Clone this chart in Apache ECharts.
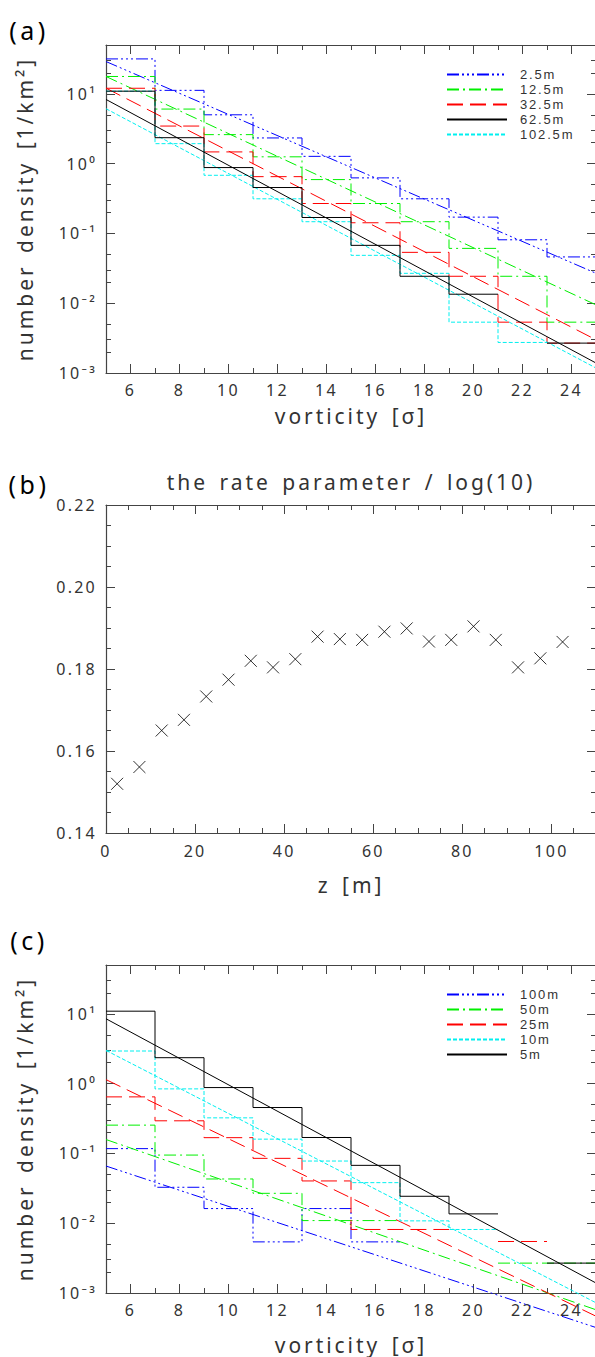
<!DOCTYPE html>
<html lang="en">
<head>
<meta charset="UTF-8">
<title>vorticity number density</title>
<script src="https://cdn.jsdelivr.net/npm/echarts@6/dist/echarts.min.js"></script>
<style>
    html, body { margin: 0; padding: 0; background: #fff; }
    #main { width: 595px; height: 1357px; }
    #main svg text { letter-spacing: 0.14em; word-spacing: 0.15em; }
</style>
</head>
<body>
<div id="main"></div>
<script>
    // histogram bins, vorticity in units of sigma
    var binEdges = [5, 7, 9, 11, 13, 15, 17, 19, 21, 23, 25];
    var vortTicks = [6, 8, 10, 12, 14, 16, 18, 20, 22, 24];
    var densMin = 0.001, densMax = 50;

    // (a) number density per bin at several heights (null = empty bin)
    var namesA = ['2.5m', '12.5m', '32.5m', '62.5m', '102.5m'];
    var histA_2_5 = [31.6, 11.2, 5.0, 2.33, 1.27, 0.624, 0.313, 0.171, 0.081, 0.046];
    var histA_12_5 = [17.7, 6.04, 2.6, 1.25, 0.59, 0.268, 0.147, 0.061, 0.0243, 0.00535];
    var histA_32_5 = [12.0, 3.45, 1.47, 0.65, 0.268, 0.142, 0.0535, 0.0243, 0.00535, 0.00268];
    var histA_62_5 = [10.9, 2.35, 0.877, 0.454, 0.169, 0.0674, 0.0243, 0.01345, null, 0.00268];
    var histA_102_5 = [10.9, 1.93, 0.68, 0.313, 0.147, 0.0485, 0.0268, 0.00535, 0.00274, null];
    // exponential fits: value at vorticity 5 and at 25
    var fitA_2_5 = [28.97, 0.02685];
    var fitA_12_5 = [17.7, 0.00946];
    var fitA_32_5 = [12.05, 0.00299];
    var fitA_62_5 = [8.30, 0.00139];
    var fitA_102_5 = [6.11, 0.001178];

    // (b) fitted rate parameter / log(10) against height
    var zHeight = [2.5, 7.5, 12.5, 17.5, 22.5, 27.5, 32.5, 37.5, 42.5, 47.5, 52.5,
        57.5, 62.5, 67.5, 72.5, 77.5, 82.5, 87.5, 92.5, 97.5, 102.5];
    var rateOverLog10 = [0.1520, 0.1561, 0.1650, 0.1676, 0.1733, 0.1774, 0.1820, 0.1804, 0.1824, 0.1879, 0.1873,
        0.1871, 0.1891, 0.1899, 0.1867, 0.1871, 0.1904, 0.1871, 0.1804, 0.1826, 0.1866];

    // (c) number density per bin for several resolutions
    var namesC = ['100m', '50m', '25m', '10m', '5m'];
    var histC_100 = [0.117, 0.0327, 0.0162, 0.0054, 0.0162, 0.0054, null, null, null, null];
    var histC_50 = [0.254, 0.0946, 0.043, 0.0268, 0.0109, 0.0109, null, null, 0.00268, 0.00268];
    var histC_25 = [0.645, 0.293, 0.168, 0.0849, 0.0403, 0.00813, 0.00813, null, 0.00547, null];
    var histC_10 = [2.93, 0.84, 0.323, 0.160, 0.0777, 0.0381, 0.0108, 0.00813, null, null];
    var histC_5 = [10.9, 2.35, 0.877, 0.454, 0.169, 0.0674, 0.0243, 0.0136, null, 0.00268];
    var fitC_100 = [0.0659, 0.00032];
    var fitC_50 = [0.158, 0.000575];
    var fitC_25 = [1.14, 0.000465];
    var fitC_10 = [2.99, 0.000724];
    var fitC_5 = [8.49, 0.00139];

    var frameColor = '#444';
    var textColor = '#333';
    var font = 'Noto Sans';
    var lineStyles = [
        {color: '#0000ff', type: [12, 3, 2, 3, 2, 3, 2, 3]},
        {color: '#00f000', type: [12, 4, 2, 4]},
        {color: '#ff0000', type: [16, 7]},
        {color: '#000000', type: 'solid'},
        {color: '#00f0f0', type: [4, 2]}
    ];
    // (c) legend order is blue, green, red, cyan, black
    var lineStylesC = [lineStyles[0], lineStyles[1], lineStyles[2], lineStyles[4], lineStyles[3]];

    var sup = {'-': '\u207b', '0': '\u2070', '1': '\u00b9', '2': '\u00b2', '3': '\u00b3'};
    function powerLabel(v) {
        var e = Math.round(Math.log(v) / Math.LN10);
        if (Math.abs(v / Math.pow(10, e) - 1) > 1e-6) return '';
        return '10' + String(e).split('').map(function (c) { return sup[c]; }).join('');
    }

    function stepData(vals) {
        var pts = [];
        vals.forEach(function (v, i) {
            if (v == null) return;
            if (pts.length && vals[i - 1] == null) pts.push([binEdges[i], null]);
            pts.push([binEdges[i], v], [binEdges[i + 1], v]);
        });
        return pts;
    }

    var xAxis = [], yAxis = [], series = [];
    function add(list, a) { list.push(a); return list.length - 1; }

    function ax(g, position, type, min, max, tickLen, showLine) {
        return {
            gridIndex: g, position: position, type: type, min: min, max: max,
            silent: true,
            axisLine: {show: !!showLine, onZero: false, lineStyle: {color: frameColor, width: 1.2}},
            axisTick: {show: true, inside: true, length: tickLen, lineStyle: {color: frameColor, width: 1}},
            axisLabel: {show: false},
            splitLine: {show: false},
            axisPointer: {show: false}
        };
    }
    function labels(extra) {
        var l = {show: true, color: textColor, fontFamily: font, fontSize: 16};
        for (var k in extra) l[k] = extra[k];
        return l;
    }
    var nameStyle = {color: textColor, fontFamily: font, fontSize: 21};
    var minorFactors = [2, 10 / 3, 5];   // minor log ticks at 5, 3 and 2 per decade

    function logPanel(g, xNameGap) {
        var x = ax(g, 'bottom', 'value', 5, 25, 9, true);
        x.axisTick.customValues = vortTicks;
        x.axisLabel = labels({customValues: vortTicks, margin: 9});
        x.name = 'vorticity [σ]';
        x.nameLocation = 'middle';
        x.nameGap = xNameGap;
        x.nameTextStyle = nameStyle;
        var xi = add(xAxis, x);
        var xm = ax(g, 'bottom', 'value', 5, 25, 5, false);
        xm.interval = 1;
        add(xAxis, xm);
        var xt = ax(g, 'top', 'value', 5, 25, 9, true);
        xt.axisTick.customValues = vortTicks;
        add(xAxis, xt);
        var xtm = ax(g, 'top', 'value', 5, 25, 5, false);
        xtm.interval = 1;
        add(xAxis, xtm);

        var y = ax(g, 'left', 'log', densMin, densMax, 9, true);
        y.axisLabel = labels({formatter: powerLabel, margin: 9});
        y.name = 'number density [1/km²]';
        y.nameLocation = 'middle';
        y.nameGap = 71;
        y.nameTextStyle = nameStyle;
        var yi = add(yAxis, y);
        minorFactors.forEach(function (f) {
            add(yAxis, ax(g, 'left', 'log', densMin * f, densMax * f, 5, false));
        });
        add(yAxis, ax(g, 'right', 'log', densMin, densMax, 9, true));
        minorFactors.forEach(function (f) {
            add(yAxis, ax(g, 'right', 'log', densMin * f, densMax * f, 5, false));
        });
        return {x: xi, y: yi};
    }

    function lineSeries(p, name, data, st) {
        return {
            type: 'line', name: name, xAxisIndex: p.x, yAxisIndex: p.y,
            data: data, symbol: 'none', showSymbol: false, connectNulls: false,
            clip: false, silent: true,
            z: st.color === '#000000' ? 4 : 3,
            lineStyle: {color: st.color, width: 1, type: st.type},
            itemStyle: {color: st.color}
        };
    }

    function addHistograms(p, names, hists, fits, styles) {
        names.forEach(function (n, i) {
            series.push(lineSeries(p, n, stepData(hists[i]), styles[i]));
            series.push(lineSeries(p, n, [[binEdges[0], fits[i][0]], [binEdges[binEdges.length - 1], fits[i][1]]], styles[i]));
        });
    }

    // panel (a)
    var pa = logPanel(0, 32);
    addHistograms(pa, namesA,
        [histA_2_5, histA_12_5, histA_32_5, histA_62_5, histA_102_5],
        [fitA_2_5, fitA_12_5, fitA_32_5, fitA_62_5, fitA_102_5], lineStyles);

    // panel (b)
    var bx = ax(1, 'bottom', 'value', 0, 110, 9, true);
    bx.interval = 20;
    bx.axisLabel = labels({margin: 10, showMaxLabel: false});
    bx.name = 'z [m]';
    bx.nameLocation = 'middle';
    bx.nameGap = 41;
    bx.nameTextStyle = nameStyle;
    var bxi = add(xAxis, bx);
    var bxm = ax(1, 'bottom', 'value', 0, 110, 5, false);
    bxm.interval = 5;
    add(xAxis, bxm);
    var bt = ax(1, 'top', 'value', 0, 110, 9, true);
    bt.interval = 20;
    bt.name = 'the rate parameter / log(10)';
    bt.nameLocation = 'middle';
    bt.nameGap = 13;
    bt.nameTextStyle = nameStyle;
    add(xAxis, bt);
    var btm = ax(1, 'top', 'value', 0, 110, 5, false);
    btm.interval = 5;
    add(xAxis, btm);

    var by = ax(1, 'left', 'value', 0.14, 0.22, 9, true);
    by.interval = 0.02;
    by.axisLabel = labels({margin: 9, formatter: function (v) { return v.toFixed(2); }});
    var byi = add(yAxis, by);
    var bym = ax(1, 'left', 'value', 0.14, 0.22, 5, false);
    bym.interval = 0.005;
    add(yAxis, bym);
    var byr = ax(1, 'right', 'value', 0.14, 0.22, 9, true);
    byr.interval = 0.02;
    add(yAxis, byr);
    var byrm = ax(1, 'right', 'value', 0.14, 0.22, 5, false);
    byrm.interval = 0.005;
    add(yAxis, byrm);

    series.push({
        type: 'scatter', xAxisIndex: bxi, yAxisIndex: byi, silent: true,
        data: zHeight.map(function (z, i) { return [z, rateOverLog10[i]]; }),
        symbol: 'path://M0,0L12,12M12,0L0,12',
        symbolSize: 12,
        itemStyle: {color: 'none', borderColor: '#000', borderWidth: 1}
    });

    // panel (c)
    var pc = logPanel(2, 41);
    addHistograms(pc, namesC,
        [histC_100, histC_50, histC_25, histC_10, histC_5],
        [fitC_100, fitC_50, fitC_25, fitC_10, fitC_5], lineStylesC);

    function legend(names, top) {
        return {
            data: names, orient: 'vertical', left: 446, top: top, padding: 0,
            itemWidth: 60, itemHeight: 4, itemGap: 0, selectedMode: false,
            itemStyle: {opacity: 0},
            textStyle: {fontFamily: 'Liberation Sans', fontSize: 13, color: textColor, lineHeight: 15, padding: [0, 0, 0, 8]}
        };
    }

    function panelLabel(text, y) {
        return {
            type: 'text', x: 29, y: y, silent: true,
            style: {text: text, fontFamily: font, fontSize: 25, fill: '#000', align: 'center', verticalAlign: 'middle'}
        };
    }

    var grid = [45, 505, 965].map(function (t) {
        return {left: 106, top: t, width: 490, height: 328, outerBoundsMode: 'none'};
    });

    var chart = echarts.init(document.getElementById('main'), null, {renderer: 'svg'});
    chart.setOption({
        animation: false,
        backgroundColor: '#fff',
        grid: grid,
        xAxis: xAxis,
        yAxis: yAxis,
        legend: [legend(namesA, 67), legend(namesC, 987)],
        graphic: [panelLabel('(a)', 30), panelLabel('(b)', 484), panelLabel('(c)', 940)],
        series: series
    });
</script>
</body>
</html>
